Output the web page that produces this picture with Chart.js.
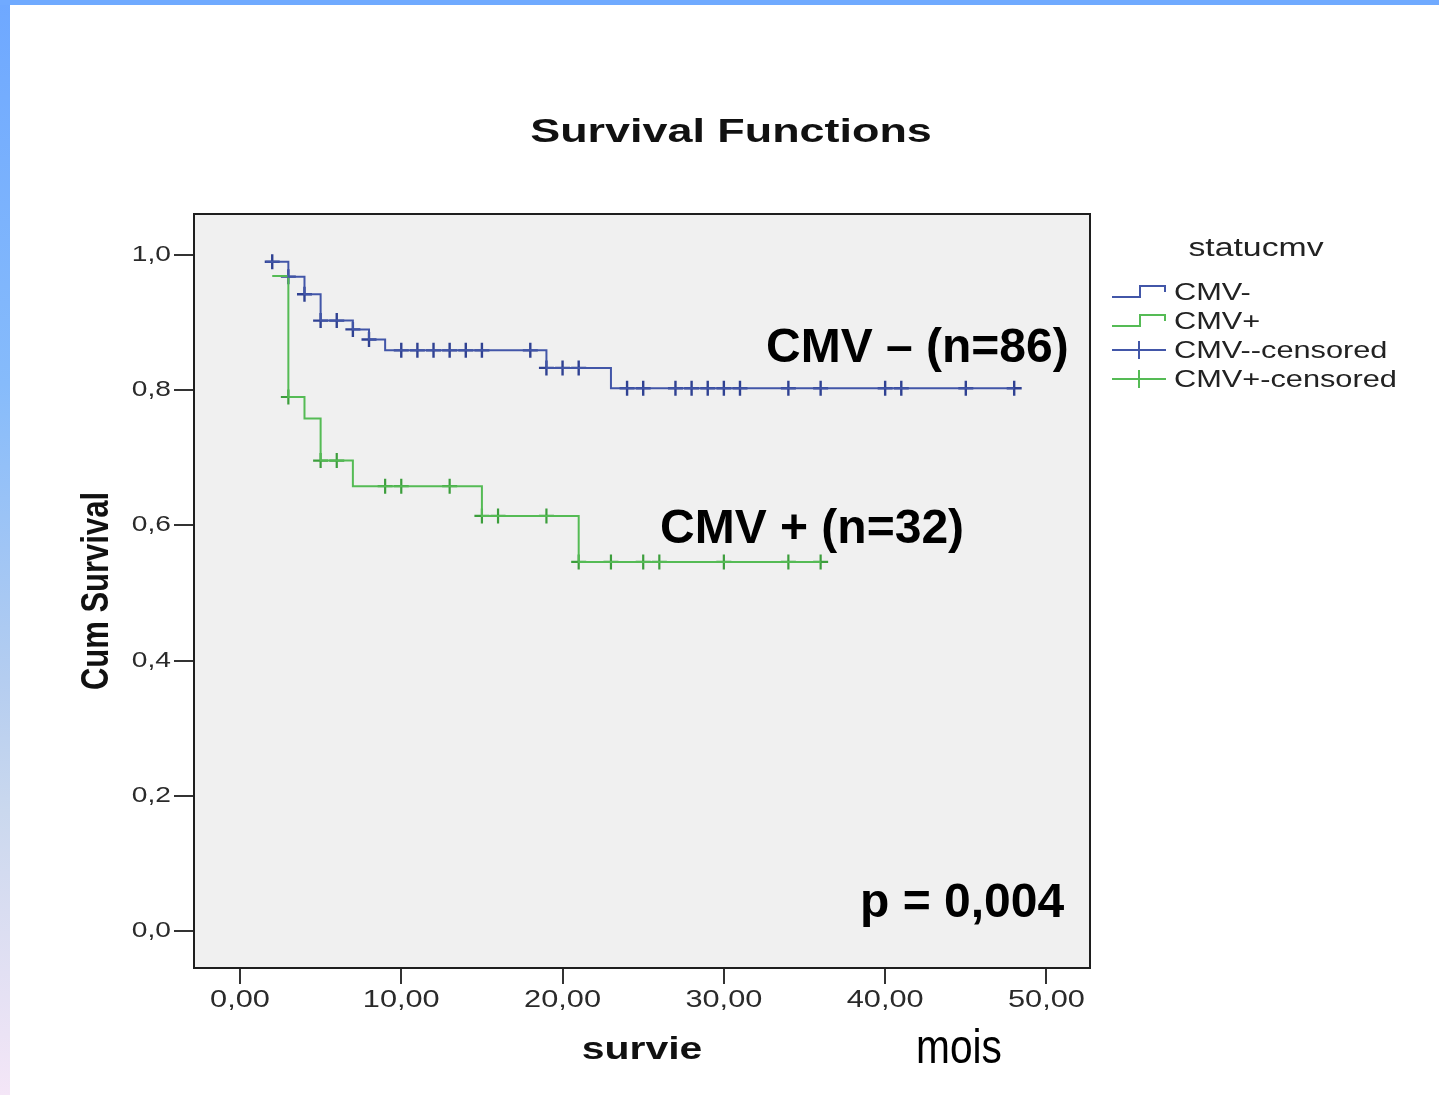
<!DOCTYPE html>
<html>
<head>
<meta charset="utf-8">
<title>Survival Functions</title>
<script src="https://cdn.jsdelivr.net/npm/chart.js@4.4.1/dist/chart.umd.min.js"></script>
<style>
  html, body { margin: 0; padding: 0; background: #ffffff; }
  body { width: 1439px; height: 1095px; position: relative; overflow: hidden; }
  #wrap { position: absolute; left: 0; top: 0; width: 1439px; height: 1095px; }
  #edgeLeft { position: absolute; left: 0; top: 0; width: 10px; height: 1095px; z-index: 2;
    background: linear-gradient(#6ea8ff 0%, #86bbfb 35%, #b4cdf0 62%, #cad8ee 74%, #f4e6f7 100%); }
  #edgeTop { position: absolute; left: 0; top: 0; width: 1439px; height: 5px; z-index: 3; background: #70aaff; }
</style>
</head>
<body>
<div id="wrap"><canvas id="km" width="1439" height="1095"></canvas></div>
<div id="edgeLeft"></div>
<div id="edgeTop"></div>
<script>
// Kaplan-Meier estimates by CMV status (time in months)
const cmvNegTime = [1.6, 3.0, 4.0, 5.0, 7.0, 8.0, 9.0, 19.0, 23.0, 48.0];
const cmvNegSurv = [0.990, 0.968, 0.942, 0.903, 0.890, 0.875, 0.859, 0.833, 0.803, 0.803];
const cmvPosTime = [2.0, 3.0, 4.0, 5.0, 7.0, 15.0, 21.0, 36.0];
const cmvPosSurv = [0.969, 0.790, 0.758, 0.696, 0.658, 0.614, 0.546, 0.546];

// Censored observations
const cmvNegCensTime = [2, 3, 4, 5, 6, 7, 8, 10, 11, 12, 13, 14, 15, 18, 19, 20, 21,
                        24, 25, 27, 28, 29, 30, 31, 34, 36, 40, 41, 45, 48];
const cmvNegCensSurv = [0.990, 0.968, 0.942, 0.903, 0.903, 0.890, 0.875,
                        0.859, 0.859, 0.859, 0.859, 0.859, 0.859, 0.859,
                        0.833, 0.833, 0.833,
                        0.803, 0.803, 0.803, 0.803, 0.803, 0.803, 0.803, 0.803, 0.803, 0.803, 0.803, 0.803, 0.803];
const cmvPosCensTime = [3, 5, 6, 9, 10, 13, 15, 16, 19, 21, 23, 25, 26, 30, 34, 36];
const cmvPosCensSurv = [0.790, 0.696, 0.696, 0.658, 0.658, 0.658, 0.614, 0.614, 0.614,
                        0.546, 0.546, 0.546, 0.546, 0.546, 0.546, 0.546];

// Axis ticks
const xTickValues = [0, 10, 20, 30, 40, 50];
const xTickLabels = ['0,00', '10,00', '20,00', '30,00', '40,00', '50,00'];
const yTickValues = [0, 0.2, 0.4, 0.6, 0.8, 1.0];
const yTickLabels = ['0,0', '0,2', '0,4', '0,6', '0,8', '1,0'];

// Legend entries and labels
const legendTitle = 'statucmv';
const legendLabels = ['CMV-', 'CMV+', 'CMV--censored', 'CMV+-censored'];
const groupNotes = ['CMV \u2013 (n=86)', 'CMV + (n=32)'];
const pValueNote = 'p = 0,004';

const BLUE = '#4256a8';
const BLUE_MARK = '#2f4192';
const GREEN = '#55bb55';
const GREEN_MARK = '#3c9e3c';
const STRETCH = 1.28;      // wide lettering of the SPSS-style chart text
const SANS = '"Liberation Sans", Arial, sans-serif';

const toPoints = (xs, ys) => xs.map((x, i) => ({ x: x, y: ys[i] }));
const labelFor = (values, labels) => (v) => {
  const i = values.findIndex(t => Math.abs(t - v) < 1e-6);
  return i >= 0 ? labels[i] : '';
};

// Draws text widened horizontally around its anchor point
function wideText(ctx, text, x, y, sx) {
  ctx.save();
  ctx.translate(x, y);
  ctx.scale(sx, 1);
  ctx.fillText(text, 0, 0);
  ctx.restore();
}

// Chart-drawn text (tick labels) gets the same widened lettering
const wideTicks = {
  id: 'wideTicks',
  beforeDraw(chart) {
    const ctx = chart.ctx;
    const plain = CanvasRenderingContext2D.prototype.fillText;
    ctx.fillText = function (t, x, y) {
      this.save();
      this.translate(x, y);
      this.scale(STRETCH, 1);
      plain.call(this, t, 0, 0);
      this.restore();
    };
    // grey plot panel
    const a = chart.chartArea;
    ctx.save();
    ctx.fillStyle = '#f0f0f0';
    ctx.fillRect(a.left, a.top, a.right - a.left, a.bottom - a.top);
    ctx.restore();
  },
  beforeDatasetsDraw(chart) {
    delete chart.ctx.fillText;
  }
};

const decorations = {
  id: 'decorations',
  afterDraw(chart) {
    const ctx = chart.ctx;
    const a = chart.chartArea;
    ctx.save();

    // frame around the plot panel
    ctx.strokeStyle = '#1e1e1e';
    ctx.lineWidth = 2;
    ctx.strokeRect(a.left, a.top, a.right - a.left, a.bottom - a.top);

    // chart title
    ctx.fillStyle = '#111';
    ctx.textAlign = 'center';
    ctx.textBaseline = 'alphabetic';
    ctx.font = 'bold 34px ' + SANS;
    wideText(ctx, 'Survival Functions', 731, 142, 1.32);

    // axis titles
    ctx.font = 'bold 32px ' + SANS;
    wideText(ctx, 'survie', (a.left + a.right) / 2, 1059, STRETCH);

    ctx.save();
    ctx.translate(97, (a.top + a.bottom) / 2);
    ctx.scale(STRETCH, 1);
    ctx.rotate(-Math.PI / 2);
    ctx.font = 'bold 31px ' + SANS;
    ctx.textBaseline = 'middle';
    ctx.fillText('Cum Survival', 0, 0);
    ctx.restore();

    // legend
    ctx.font = '26px ' + SANS;
    ctx.fillStyle = '#222';
    ctx.textAlign = 'center';
    wideText(ctx, legendTitle, 1256, 256, 1.3);

    const rows = [292, 321, 350, 379];
    const cols = [BLUE, GREEN, BLUE, GREEN];
    ctx.lineWidth = 2;
    ctx.font = '24px ' + SANS;
    rows.forEach((ry, i) => {
      ctx.strokeStyle = cols[i];
      ctx.beginPath();
      if (i < 2) {
        ctx.moveTo(1112, ry + 5);
        ctx.lineTo(1140, ry + 5);
        ctx.lineTo(1140, ry - 6);
        ctx.lineTo(1165, ry - 6);
        ctx.lineTo(1165, ry);
      } else {
        ctx.moveTo(1112, ry);
        ctx.lineTo(1166, ry);
        ctx.moveTo(1139, ry - 9);
        ctx.lineTo(1139, ry + 9);
      }
      ctx.stroke();
      ctx.textAlign = 'left';
      ctx.textBaseline = 'middle';
      ctx.fillStyle = '#222';
      wideText(ctx, legendLabels[i], 1174, ry + 1, STRETCH);
    });

    // group sizes and log-rank p value
    ctx.fillStyle = '#000';
    ctx.textAlign = 'left';
    ctx.textBaseline = 'alphabetic';
    ctx.font = 'bold 48px ' + SANS;
    ctx.fillText(groupNotes[0], 766, 362);
    ctx.fillText(groupNotes[1], 660, 543);
    ctx.fillText(pValueNote, 860, 917);

    // time unit
    ctx.font = '49px ' + SANS;
    wideText(ctx, 'mois', 916, 1063, 0.83);

    ctx.restore();
  }
};

new Chart(document.getElementById('km'), {
  type: 'scatter',
  data: {
    datasets: [
      { label: legendLabels[0], data: toPoints(cmvNegTime, cmvNegSurv), showLine: true, stepped: 'before',
        borderColor: BLUE, borderWidth: 2, pointRadius: 0, fill: false },
      { label: legendLabels[1], data: toPoints(cmvPosTime, cmvPosSurv), showLine: true, stepped: 'before',
        borderColor: GREEN, borderWidth: 2, pointRadius: 0, fill: false },
      { label: legendLabels[2], data: toPoints(cmvNegCensTime, cmvNegCensSurv), showLine: false,
        pointStyle: 'cross', pointRadius: 7.5, borderWidth: 2.4, borderColor: BLUE_MARK },
      { label: legendLabels[3], data: toPoints(cmvPosCensTime, cmvPosCensSurv), showLine: false,
        pointStyle: 'cross', pointRadius: 7.5, borderWidth: 2.2, borderColor: GREEN_MARK }
    ]
  },
  options: {
    responsive: false,
    devicePixelRatio: 1,
    animation: false,
    layout: { padding: { left: 0, top: 214, right: 349, bottom: 0 } },
    plugins: { legend: { display: false }, title: { display: false }, tooltip: { enabled: false } },
    scales: {
      x: {
        type: 'linear', min: -2.85, max: 52.7,
        afterBuildTicks: (s) => { s.ticks = xTickValues.map(v => ({ value: v })); },
        afterFit: (s) => { s.height = 127; },
        border: { display: false },
        grid: { drawOnChartArea: false, drawTicks: true, tickLength: 16, color: '#333', lineWidth: 2 },
        ticks: { callback: labelFor(xTickValues, xTickLabels), padding: 2, maxRotation: 0,
                 color: '#2a2a2a', font: { family: SANS, size: 24 } }
      },
      y: {
        type: 'linear', min: -0.0547, max: 1.0607,
        afterBuildTicks: (s) => { s.ticks = yTickValues.map(v => ({ value: v })); },
        afterFit: (s) => { s.width = 194; },
        border: { display: false },
        grid: { drawOnChartArea: false, drawTicks: true, tickLength: 20, color: '#333', lineWidth: 2 },
        ticks: { callback: labelFor(yTickValues, yTickLabels), padding: 3,
                 color: '#2a2a2a', font: { family: SANS, size: 22 } }
      }
    }
  },
  plugins: [wideTicks, decorations]
});
</script>
</body>
</html>
